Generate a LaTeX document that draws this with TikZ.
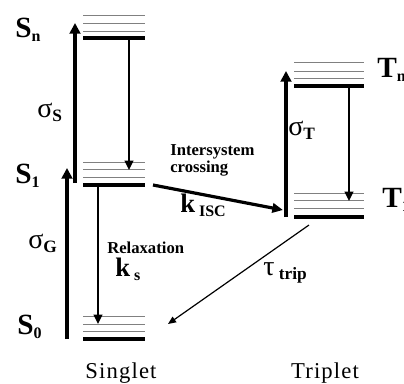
\documentclass[tikz,border=0pt]{standalone}
\usepackage{fontspec}
\setmainfont{Liberation Serif}
\newfontfamily\spacedfont[LetterSpace=5]{Liberation Serif}
\usetikzlibrary{arrows.meta,positioning}

% subscript set a little below the baseline
\newcommand{\lowsub}[2][12]{\raisebox{-0.35ex}{\fontsize{#1}{#1}\selectfont\bfseries #2}}

\begin{document}
\begin{tikzpicture}[
  x=0.75pt, y=-0.75pt,
  level/.style={line width=2.3pt},
  sublevel/.style={line width=0.55pt, black!50},
  absorb/.style={-{Triangle[length=8pt,width=8pt]}, line width=3.2pt},
  decay/.style={-{Triangle[length=7pt,width=6.5pt]}, line width=1.2pt},
  isc/.style={-{Triangle[length=8pt,width=7pt]}, line width=2.4pt},
  trip/.style={-{Triangle[length=6pt,width=5pt]}, line width=0.9pt},
  state/.style={anchor=base west, inner sep=0pt, font=\fontsize{22}{24}\selectfont\bfseries},
  rate/.style={anchor=base west, inner sep=0pt, font=\fontsize{21}{23}\selectfont},
  note/.style={anchor=base west, inner sep=0pt, font=\fontsize{12.5}{14}\selectfont\bfseries},
  caption/.style={anchor=base, inner sep=0pt, font=\fontsize{17}{19}\selectfont\spacedfont},
]
  \useasboundingbox (0,0) rectangle (404,383);

  % singlet levels
  \foreach \y in {15,23,31, 162,169,177, 316,324,331}
    \draw[sublevel] (83,\y) -- (145,\y);
  \draw[level] (83,38)  -- (145,38);
  \draw[level] (83,185) -- (145,185);
  \draw[level] (83,339) -- (145,339);

  % triplet levels
  \foreach \y in {62,71,78, 193,200,208}
    \draw[sublevel] (294,\y) -- (364,\y);
  \draw[level] (294,86)  -- (364,86);
  \draw[level] (294,217) -- (364,217);

  % end points of the transitions
  \coordinate (g0)  at (67,339);
  \coordinate (g1)  at (67,168);
  \coordinate (s1)  at (75,183);
  \coordinate (sn)  at (75,23);
  \coordinate (n1)  at (129,38);
  \coordinate (n2)  at (129,170);
  \coordinate (r1)  at (98,185);
  \coordinate (r0)  at (98,324);
  \coordinate (c1)  at (153,185);
  \coordinate (c2)  at (283,210);
  \coordinate (t1)  at (286,217);
  \coordinate (tn)  at (286,71);
  \coordinate (m1)  at (349,86);
  \coordinate (m2)  at (349,201);
  \coordinate (p1)  at (309,225);
  \coordinate (p0)  at (168,324);

  \draw[absorb] (g0) -- (g1);
  \draw[absorb, line width=3.6pt] (s1) -- (sn);
  \draw[decay] (n1) -- (n2);
  \draw[decay] (r1) -- (r0);
  \draw[isc] (c1) -- (c2);
  \draw[absorb, line width=3pt] (t1) -- (tn);
  \draw[decay] (m1) -- (m2);
  \draw[trip] (p1) -- (p0);

  % state labels
  \node[state] (Sn) at (15,37)  {S\lowsub{n}};
  \node[state] (S1) at (15,183) {S\lowsub{1}};
  \node[state] (S0) at (17,334) {S\lowsub{0}};
  \node[state] (Tn) at (377,77)  {T\lowsub{n}};
  \node[state] (T1) at (382,207) {T\lowsub{1}};

  % rate labels
  \node[rate] (sigS) at (37,117)  {σ\lowsub[13]{S}};
  \node[rate] (sigG) at (28,248)  {σ\lowsub[13]{G}};
  \node[rate] (sigT) at (288,135) {σ\lowsub[13]{T}};
  \node[rate] (tau)  at (263,275) {τ\lowsub[13]{ trip}};
  \node[note] (relax) at (107,253) {Relaxation};
  \node[rate, font=\fontsize{20}{22}\selectfont\bfseries] (ks) at (115,276) {k\lowsub{ s}};
  \node[note] (inter) at (170,155) {Intersystem};
  \node[note] (cross) at (170,172) {crossing};
  \node[rate, font=\fontsize{20}{22}\selectfont\bfseries] (kisc) at (180,212) {k\lowsub{ ISC}};

  % column captions
  \node[caption] (singlet) at (121,378) {Singlet};
  \node[caption] (triplet) at (325,378) {Triplet};
\end{tikzpicture}
\end{document}
